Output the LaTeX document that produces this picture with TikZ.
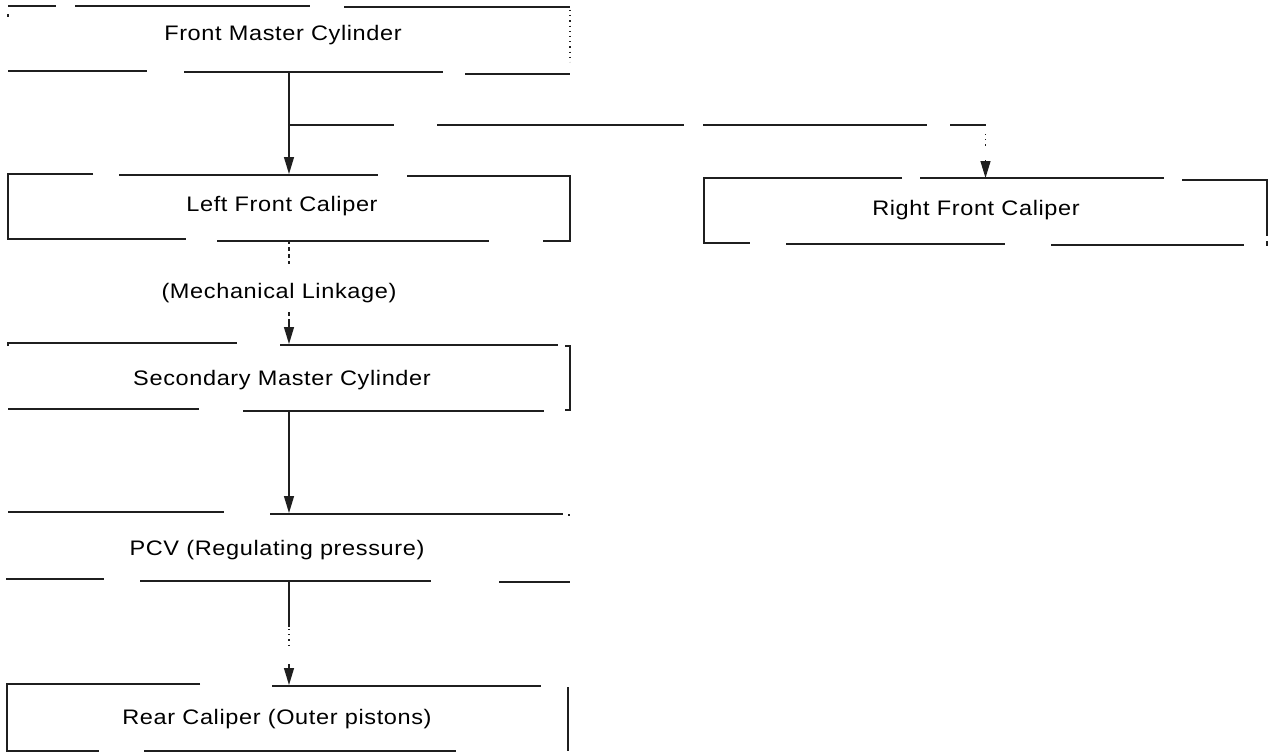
\documentclass[tikz,border=0pt]{standalone}
\usepackage{fontspec}
\setmainfont{Liberation Sans}[LetterSpace=3, FakeStretch=1.12]
\usetikzlibrary{arrows.meta}
\definecolor{ink}{gray}{0.12}
\tikzset{
  edge/.style={line width=1.25pt, draw=ink},
  rim/.style={edge, line cap=butt},
  flow/.style={edge, -{Triangle[length=17pt,width=10pt]}},
  dots/.style={edge, dash pattern=on 1.2pt off 4pt},
  linkage/.style={edge, dash pattern=on 4pt off 3pt},
  box/.style={rectangle, draw=none, inner sep=0pt, outer sep=0pt,
              minimum width=562pt, minimum height=66pt},
  caption/.style={font=\fontsize{21pt}{24pt}\selectfont, anchor=base,
                  inner sep=0pt, text=black},
}
\begin{document}
\begin{tikzpicture}[x=1pt, y=-1pt]
  \useasboundingbox (0,0) rectangle (1269,752);

  % ---- block outlines (frames with their printed breaks)
  \node[box] (fmc) at (289,40)  {};
  \node[box] (lfc) at (289,207) {};
  \node[box, minimum width=563pt] (rfc) at (985.5,211) {};
  \node[box] (smc) at (289,377) {};
  \node[box, minimum height=68pt] (pcv) at (289,547) {};
  \node[box] (rc)  at (289,718) {};

  % Front Master Cylinder frame
  \draw[rim] (8,6) -- (56,6);
  \draw[rim] (75,6) -- (310,6);
  \draw[rim] (344,7) -- (570,7);
  \draw[rim] (8,14) -- (8,17);
  \draw[dots] (570,10) -- (570,62);
  \draw[rim] (8,71) -- (147,71);
  \draw[rim] (184,72) -- (443,72);
  \draw[rim] (465,74) -- (570,74);

  % Left Front Caliper frame
  \draw[rim] (93,174) -- (8,174) -- (8,239) -- (186,239);
  \draw[rim] (119,175) -- (378,175);
  \draw[rim] (407,176) -- (570,176) -- (570,241) -- (543,241);
  \draw[rim] (217,241) -- (489,241);

  % Right Front Caliper frame
  \draw[rim] (902,178) -- (704,178) -- (704,243) -- (750,243);
  \draw[rim] (920,178) -- (1164,178);
  \draw[rim] (1182,180) -- (1267,180) -- (1267,236);
  \draw[rim] (1267,241) -- (1267,246);
  \draw[rim] (786,244) -- (1005,244);
  \draw[rim] (1051,245) -- (1244,245);

  % Secondary Master Cylinder frame
  \draw[rim] (8,346) -- (8,343) -- (237,343);
  \draw[rim] (280,345) -- (558,345);
  \draw[rim] (565,346) -- (570,346) -- (570,410) -- (565,410);
  \draw[rim] (8,409) -- (199,409);
  \draw[rim] (243,411) -- (544,411);

  % PCV frame
  \draw[rim] (8,512) -- (224,512);
  \draw[rim] (270,514) -- (563,514);
  \draw[rim] (568,515) -- (570,515);
  \draw[rim] (6,579) -- (104,579);
  \draw[rim] (140,581) -- (431,581);
  \draw[rim] (499,582) -- (570,582);

  % Rear Caliper frame
  \draw[rim] (200,684) -- (7,684) -- (7,751) -- (99,751);
  \draw[rim] (272,686) -- (541,686);
  \draw[rim] (568,687) -- (568,751);
  \draw[rim] (144,751) -- (456,751);

  % ---- texts
  \node[caption] (fmc-t)  at (283,41)  {Front Master Cylinder};
  \node[caption] (lfc-t)  at (282,211) {Left Front Caliper};
  \node[caption] (rfc-t)  at (976,215) {Right Front Caliper};
  \node[caption] (mech)   at (279,298) {(Mechanical Linkage)};
  \node[caption] (smc-t)  at (282,385) {Secondary Master Cylinder};
  \node[caption] (pcv-t)  at (277,555) {PCV (Regulating pressure)};
  \node[caption] (rc-t)   at (277,724) {Rear Caliper (Outer pistons)};

  % ---- connectors
  % front master cylinder to the left caliper
  \draw[flow] (fmc.south) -- (lfc.north);

  % branch to the right caliper
  \coordinate (tee) at (fmc.south |- 0,125);
  \draw[edge, dash pattern=on 105pt off 43pt on 247pt off 19pt on 224pt off 23pt on 40pt off 900pt]
    (tee) -- (tee -| rfc.north);
  \draw[dots] (rfc.north |- 0,134) -- (rfc.north |- 0,149);
  \draw[flow] (rfc.north |- 0,160) -- (rfc.north);

  % mechanical linkage down to the secondary master cylinder
  \draw[linkage] (lfc.south) -- (lfc.south |- 0,264);
  \draw[linkage] (lfc.south |- 0,312) -- (lfc.south |- 0,324);
  \draw[flow] (lfc.south |- 0,323) -- (smc.north);

  % secondary master cylinder to the PCV
  \draw[flow] (smc.south) -- (pcv.north);

  % PCV to the rear caliper
  \draw[edge] (pcv.south) -- (pcv.south |- 0,627);
  \draw[dots] (pcv.south |- 0,629) -- (pcv.south |- 0,648);
  \draw[flow] (pcv.south |- 0,664) -- (rc.north);
\end{tikzpicture}
\end{document}
